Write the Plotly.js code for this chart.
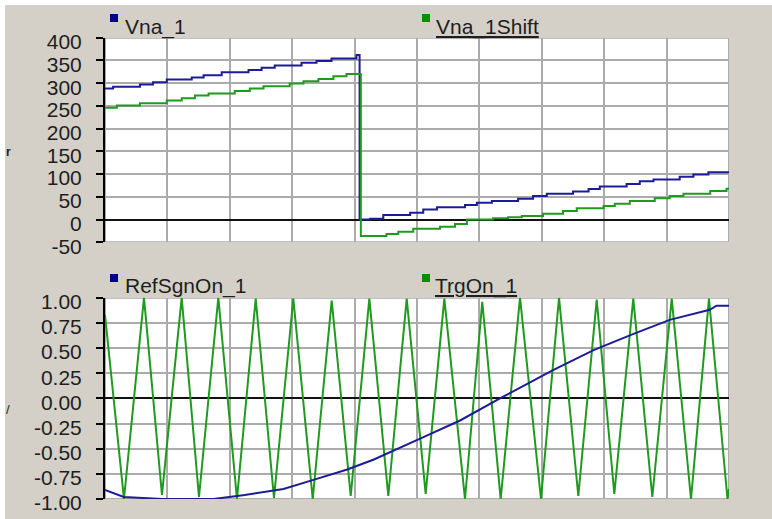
<!DOCTYPE html>
<html>
<head>
<meta charset="utf-8">
<script src="https://cdn.plot.ly/plotly-3.0.1.min.js"></script>
<style>
  html, body { margin: 0; padding: 0; background: #D4D0C8; }
  #chart { width: 772px; height: 519px; }
</style>
</head>
<body>
<div id="chart"></div>
<script>
// ---------- DATA (x in grid divisions 0..10) ----------
// Top panel: Vna_1 (blue), stepped
const vnaX = [0, 0.13, 0.56, 0.77, 0.99, 1.39, 1.58, 1.87, 2.30, 2.51, 2.72, 3.15, 3.39, 3.63, 4.03,
              4.08, 4.25, 4.46, 4.89, 5.10, 5.32, 5.77, 5.96, 6.20, 6.62, 6.86, 7.08, 7.50, 7.75, 7.93,
              8.36, 8.57, 8.79, 9.21, 9.43, 9.67, 10];
const vnaY = [288, 292, 297, 302, 308, 312.5, 317.5, 324, 329, 334, 339, 345, 349, 354.5, 362,
              0, 2, 10, 15, 22, 27, 32, 37, 41, 46, 52, 57, 62, 67, 73,
              78, 84, 88, 94, 99, 104, 104];
// Top panel: Vna_1Shift (green), stepped
const shiftX = [0, 0.19, 0.56, 0.99, 1.23, 1.44, 1.66, 2.08, 2.32, 2.54, 2.96, 3.18, 3.42, 3.66, 3.87,
                4.10, 4.51, 4.70, 4.94, 5.37, 5.61, 5.80, 6.22, 6.46, 6.68, 7.02, 7.34, 7.56, 7.99,
                8.17, 8.41, 8.81, 9.05, 9.27, 9.70, 9.96, 10];
const shiftY = [246, 251, 256, 262, 267, 273, 277, 283, 288, 293, 299, 304, 309, 315, 320,
                -36, -32, -27, -20, -16, -10, 0, 3, 5, 8, 13, 19, 25, 30,
                35, 41, 47, 52, 57, 63, 68, 68];

// Bottom panel: RefSgnOn_1 (blue)
const refX = [0, 0.30, 0.92, 1.74, 2.24, 2.86, 3.34, 3.87, 4.30, 4.67, 5.05, 5.69, 6.33, 7.18, 7.83, 8.47, 9.05, 9.69, 9.80, 10];
const refY = [-0.91, -0.98, -1.00, -1.00, -0.96, -0.90, -0.81, -0.71, -0.61, -0.51, -0.40, -0.22, 0.00, 0.28, 0.48, 0.64, 0.78, 0.88, 0.92, 0.92];

// Bottom panel: TrgOn_1 (green) triangle vertices
const trgX = [0, 0.304, 0.625, 0.913, 1.229, 1.506, 1.816, 2.115, 2.415, 2.708, 3.018, 3.329, 3.633,
              3.938, 4.236, 4.540, 4.835, 5.139, 5.438, 5.769, 6.046, 6.341, 6.651, 6.987, 7.276,
              7.585, 7.880, 8.162, 8.466, 8.771, 9.082, 9.391, 9.679, 9.976, 10];
const trgY = [0.83, -1.00, 1.00, -0.96, 1.00, -0.98, 1.00, -1.00, 0.99, -0.99, 0.99, -1.00, 0.97,
              -0.97, 0.99, -0.97, 0.99, -0.95, 0.99, -1.00, 0.96, -1.00, 1.00, -1.00, 1.00,
              -0.97, 0.98, -0.95, 0.99, -0.98, 0.99, -1.00, 0.99, -1.00, -0.90];

const topTicks = [-50, 0, 50, 100, 150, 200, 250, 300, 350, 400];
const botTicks = [-1, -0.75, -0.5, -0.25, 0, 0.25, 0.5, 0.75, 1];
const botTickText = ['-1.00', '-0.75', '-0.50', '-0.25', '0.00', '0.25', '0.50', '0.75', '1.00'];

const legendTop = ['Vna_1', 'Vna_1Shift'];
const legendBot = ['RefSgnOn_1', 'TrgOn_1'];

// ---------- LAYOUT ----------
const W = 772, H = 519;
const px = v => v / W;
const py = v => 1 - v / H;

const BLUE = '#1c1c98';
const GREEN = '#1f9a1f';
const GRID = '#ababab';
const FONT = 'Liberation Sans, Arial, sans-serif';
const TXT = '#1e1e1e';

const traces = [
  { x: vnaX, y: vnaY, xaxis: 'x', yaxis: 'y', mode: 'lines', line: { color: BLUE, width: 2, shape: 'hv' }, hoverinfo: 'skip' },
  { x: shiftX, y: shiftY, xaxis: 'x', yaxis: 'y', mode: 'lines', line: { color: GREEN, width: 2, shape: 'hv' }, hoverinfo: 'skip' },
  { x: trgX, y: trgY, xaxis: 'x2', yaxis: 'y2', mode: 'lines', line: { color: GREEN, width: 2 }, hoverinfo: 'skip' },
  { x: refX, y: refY, xaxis: 'x2', yaxis: 'y2', mode: 'lines', line: { color: BLUE, width: 2 }, hoverinfo: 'skip' }
];

const xCommon = {
  domain: [px(105), px(729)], range: [0, 10], dtick: 1, tick0: 0,
  showticklabels: false, ticks: '', showgrid: true, gridcolor: GRID, gridwidth: 2,
  zeroline: false, showline: false, fixedrange: true
};
const yCommon = {
  ticks: 'outside', ticklen: 7, tickwidth: 2, tickcolor: '#000',
  showline: true, linecolor: '#000', linewidth: 2,
  showgrid: true, gridcolor: GRID, gridwidth: 2,
  zeroline: true, zerolinecolor: '#111', zerolinewidth: 2,
  tickfont: { family: FONT, size: 21, color: TXT },
  ticklabelstandoff: 10, ticklabelshift: 4, fixedrange: true
};

const layout = {
  width: W, height: H,
  margin: { l: 0, r: 0, t: 0, b: 0, pad: 0 },
  paper_bgcolor: '#D4D0C8', plot_bgcolor: '#ffffff',
  showlegend: false,
  xaxis: Object.assign({}, xCommon, { anchor: 'y' }),
  xaxis2: Object.assign({}, xCommon, { anchor: 'y2' }),
  yaxis: Object.assign({}, yCommon, {
    anchor: 'x', domain: [py(242.3), py(37.7)], range: [-50, 400],
    tickvals: topTicks, ticktext: topTicks.map(String)
  }),
  yaxis2: Object.assign({}, yCommon, {
    anchor: 'x2', domain: [py(499), py(297.7)], range: [-1, 1],
    tickvals: botTicks, ticktext: botTickText
  }),
  shapes: [
    // white outer strips
    { type: 'rect', xref: 'paper', yref: 'paper', x0: 0, x1: px(5), y0: 0, y1: 1, fillcolor: '#fff', line: { width: 0 }, layer: 'below' },
    { type: 'rect', xref: 'paper', yref: 'paper', x0: 0, x1: 1, y0: py(5), y1: 1, fillcolor: '#fff', line: { width: 0 }, layer: 'below' },
    // plot borders
    { type: 'rect', xref: 'x', yref: 'y', x0: 0, x1: 10, y0: -50, y1: 400, line: { color: GRID, width: 2 } , layer: 'below'},
    { type: 'rect', xref: 'x2', yref: 'y2', x0: 0, x1: 10, y0: -1, y1: 1, line: { color: GRID, width: 2 }, layer: 'below' },
    // legend squares
    { type: 'rect', xref: 'paper', yref: 'paper', x0: px(110), x1: px(118), y0: py(22), y1: py(14), fillcolor: '#000090', line: { width: 0 } },
    { type: 'rect', xref: 'paper', yref: 'paper', x0: px(422), x1: px(430), y0: py(22), y1: py(14), fillcolor: '#009000', line: { width: 0 } },
    { type: 'rect', xref: 'paper', yref: 'paper', x0: px(110), x1: px(118), y0: py(282), y1: py(274), fillcolor: '#000090', line: { width: 0 } },
    { type: 'rect', xref: 'paper', yref: 'paper', x0: px(422), x1: px(430), y0: py(282), y1: py(274), fillcolor: '#009000', line: { width: 0 } }
  ],
  annotations: [
    { xref: 'paper', yref: 'paper', x: px(123), y: py(27), xanchor: 'left', yanchor: 'middle', showarrow: false,
      text: legendTop[0], font: { family: FONT, size: 21, color: TXT } },
    { xref: 'paper', yref: 'paper', x: px(434), y: py(27), xanchor: 'left', yanchor: 'middle', showarrow: false,
      text: '<u>' + legendTop[1] + '</u>', font: { family: FONT, size: 21, color: TXT } },
    { xref: 'paper', yref: 'paper', x: px(123), y: py(286), xanchor: 'left', yanchor: 'middle', showarrow: false,
      text: legendBot[0], font: { family: FONT, size: 21, color: TXT } },
    { xref: 'paper', yref: 'paper', x: px(433), y: py(286), xanchor: 'left', yanchor: 'middle', showarrow: false,
      text: '<u>' + legendBot[1] + '</u>', font: { family: FONT, size: 21, color: TXT } },
    { xref: 'paper', yref: 'paper', x: px(4), y: py(152), xanchor: 'left', yanchor: 'middle', showarrow: false,
      text: '<b>r</b>', font: { family: FONT, size: 12, color: '#222' } },
    { xref: 'paper', yref: 'paper', x: px(4), y: py(409), xanchor: 'left', yanchor: 'middle', showarrow: false,
      text: '/', font: { family: FONT, size: 13, color: '#222' } }
  ]
};

Plotly.newPlot('chart', traces, layout, { staticPlot: true, displayModeBar: false });
</script>
</body>
</html>
